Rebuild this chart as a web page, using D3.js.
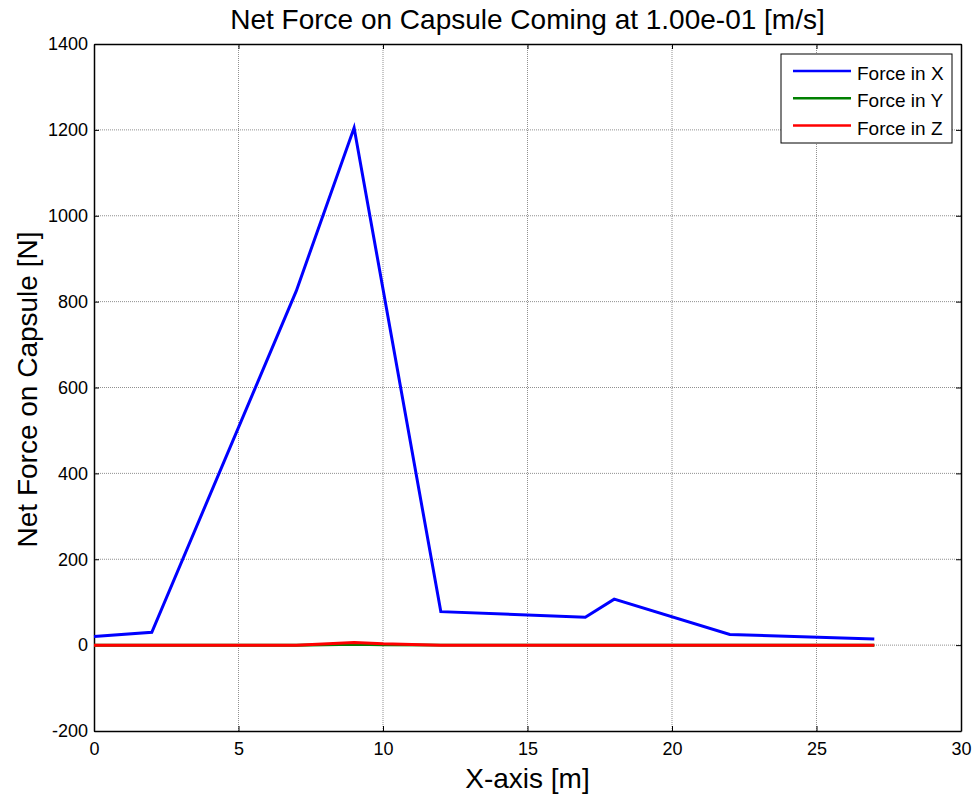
<!DOCTYPE html>
<html lang='en'>
  <head>
    <meta charset='utf-8'>
    <title>Net Force on Capsule</title>
    <script type='text/javascript' src='https://cdn.jsdelivr.net/npm/d3@7/dist/d3.min.js'></script>
    <style>
      body { margin: 0; background: #fff; }
      text { font-family: 'Liberation Sans', Arial, sans-serif; }
    </style>
  </head>
  <body>
    <script type='text/javascript'>

      var xPos = [0, 2, 7, 9, 10, 12, 17, 18, 22, 27];
      var forceX = [20, 30, 825, 1205, 780, 78, 65, 107, 25, 14];
      var forceY = [0, 0, 0, 2, 1, 0, 0, 0, 0, 0];
      var forceZ = [0, 0, 0, 6, 3, 0, 0, 0, 0, 0];
      var seriesNames = ['Force in X', 'Force in Y', 'Force in Z'];
      var seriesColors = ['#0000ff', '#008000', '#ff0000'];
      var xTicks = [0, 5, 10, 15, 20, 25, 30];
      var yTicks = [-200, 0, 200, 400, 600, 800, 1000, 1200, 1400];

      // peak sits between 9 and 12 -- blue drops straight, no vertex at 10
      var blue = xPos.map(function(x, i){ return {x: x, y: forceX[i]}; })
                     .filter(function(d){ return d.x !== 10; });
      var series = [
        blue,
        xPos.map(function(x, i){ return {x: x, y: forceY[i]}; }),
        xPos.map(function(x, i){ return {x: x, y: forceZ[i]}; })
      ];

      var w = 974, h = 795;
      var m = {left: 94, right: 13, top: 44, bottom: 64};

      var svg = d3.select('body').append('svg')
                  .attr('width', w)
                  .attr('height', h);

      var xScale = d3.scaleLinear().domain([0, 30]).range([m.left, w - m.right]);
      var yScale = d3.scaleLinear().domain([-200, 1400]).range([h - m.bottom, m.top]);
      var plain = function(d){ return String(d); };

      // grid
      svg.append('g').selectAll('line.gx')
         .data(xTicks.slice(1, -1)).enter().append('line')
         .attr('x1', function(d){ return xScale(d); })
         .attr('x2', function(d){ return xScale(d); })
         .attr('y1', m.top).attr('y2', h - m.bottom)
         .attr('stroke', '#444').attr('stroke-width', 0.6)
         .attr('stroke-dasharray', '1,1');
      svg.append('g').selectAll('line.gy')
         .data(yTicks.slice(1, -1)).enter().append('line')
         .attr('y1', function(d){ return yScale(d); })
         .attr('y2', function(d){ return yScale(d); })
         .attr('x1', m.left).attr('x2', w - m.right)
         .attr('stroke', '#444').attr('stroke-width', 0.6)
         .attr('stroke-dasharray', '1,1');

      // axes, ticks inward on all four sides
      var tickLen = 5;
      svg.append('g')
         .attr('transform', 'translate(0,' + (h - m.bottom) + ')')
         .call(d3.axisBottom(xScale).tickValues(xTicks).tickFormat(plain)
                 .tickSizeInner(-tickLen).tickSizeOuter(0).tickPadding(11));
      svg.append('g')
         .attr('transform', 'translate(0,' + m.top + ')')
         .call(d3.axisTop(xScale).tickValues(xTicks).tickSizeInner(-tickLen).tickSizeOuter(0).tickFormat(''));
      svg.append('g')
         .attr('transform', 'translate(' + m.left + ',0)')
         .call(d3.axisLeft(yScale).tickValues(yTicks).tickFormat(plain)
                 .tickSizeInner(-tickLen).tickSizeOuter(0).tickPadding(6));
      svg.append('g')
         .attr('transform', 'translate(' + (w - m.right) + ',0)')
         .call(d3.axisRight(yScale).tickValues(yTicks).tickSizeInner(-tickLen).tickSizeOuter(0).tickFormat(''));

      svg.selectAll('.domain').attr('stroke', '#000').attr('stroke-width', 1.5);
      svg.selectAll('.tick line').attr('stroke', '#000');
      svg.selectAll('.tick text')
         .attr('font-family', "'Liberation Sans', Arial, sans-serif")
         .attr('font-size', '18px')
         .attr('fill', '#000');

      // lines
      var line = d3.line()
                   .x(function(d){ return xScale(d.x); })
                   .y(function(d){ return yScale(d.y); });
      svg.append('g').selectAll('path.series')
         .data(series).enter().append('path')
         .attr('d', line)
         .attr('fill', 'none')
         .attr('stroke', function(d, i){ return seriesColors[i]; })
         .attr('stroke-width', 3);

      // title and labels
      svg.append('text')
         .attr('x', (m.left + w - m.right) / 2).attr('y', 29)
         .attr('text-anchor', 'middle')
         .attr('font-size', '28px')
         .text('Net Force on Capsule Coming at 1.00e-01 [m/s]');
      svg.append('text')
         .attr('x', (m.left + w - m.right) / 2).attr('y', 788)
         .attr('text-anchor', 'middle')
         .attr('font-size', '28px')
         .text('X-axis [m]');
      svg.append('text')
         .attr('transform', 'translate(37,' + ((m.top + h - m.bottom) / 2 + 2) + ') rotate(-90)')
         .attr('text-anchor', 'middle')
         .attr('font-size', '28px')
         .text('Net Force on Capsule [N]');

      // legend
      var lg = svg.append('g').attr('transform', 'translate(781,54)');
      lg.append('rect')
        .attr('width', 171).attr('height', 89)
        .attr('fill', '#fff').attr('stroke', '#000').attr('stroke-width', 1);
      var items = lg.selectAll('g.item')
                    .data(seriesNames).enter().append('g')
                    .attr('transform', function(d, i){ return 'translate(0,' + (17 + i * 27.3) + ')'; });
      items.append('line')
           .attr('x1', 12).attr('x2', 70)
           .attr('stroke', function(d, i){ return seriesColors[i]; })
           .attr('stroke-width', 2.5);
      items.append('text')
           .attr('x', 76).attr('y', 9)
           .attr('font-size', '19px')
           .text(function(d){ return d; });

    </script>
  </body>
</html>
